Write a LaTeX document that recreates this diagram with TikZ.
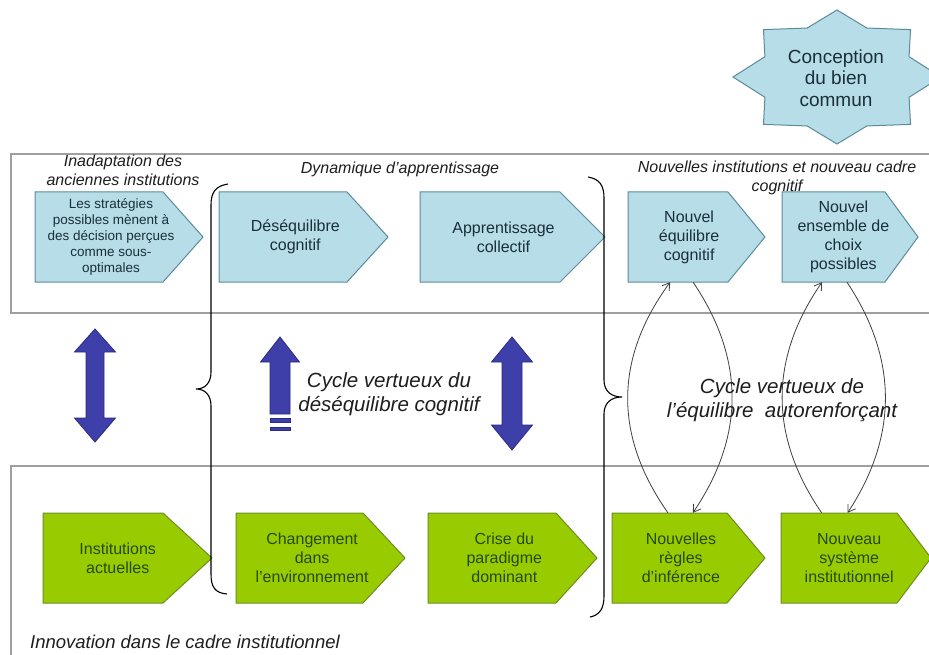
\documentclass[tikz,border=0pt]{standalone}
\usepackage{fontspec}
\setmainfont{Liberation Sans}
\usetikzlibrary{arrows.meta,calc}
\definecolor{boxblue}{HTML}{B7DDE8}
\definecolor{blueedge}{HTML}{5A8C99}
\definecolor{bluetext}{HTML}{1A2F3A}
\definecolor{boxgreen}{HTML}{99CC00}
\definecolor{greenedge}{HTML}{6B8E23}
\definecolor{greentext}{HTML}{244A0E}
\definecolor{arrowfill}{HTML}{3F3FAA}
\definecolor{arrowedge}{HTML}{2B2B80}
\definecolor{labeltext}{HTML}{1E1E1E}
\newcommand\pent[8]{%
  \draw[#2] (#4,#7) -- (#5,#7) -- (#6,#7+45) -- (#5,#7+90) -- (#4,#7+90) -- cycle;
  \node[#3] (#1) at ({(#4+#5)/2+0.3*(#6-#5)},#7+45) {#8};}
\tikzset{
  band/.style={draw=gray!75, line width=1.3pt},
  topbox/.style={fill=boxblue, draw=blueedge, line width=1pt},
  botbox/.style={fill=boxgreen, draw=greenedge, line width=1pt},
  bluetxt/.style={font=\fontsize{16}{19}\selectfont, text=bluetext, align=center, inner sep=0pt, minimum height=90pt},
  smalltxt/.style={font=\fontsize{13.5}{16}\selectfont, text=bluetext, align=center, inner sep=0pt, minimum height=90pt},
  greentxt/.style={font=\fontsize{16}{19}\selectfont, text=greentext, align=center, inner sep=0pt, minimum height=90pt},
  lbl/.style={font=\fontsize{16}{19}\selectfont\itshape, text=labeltext, align=center, inner sep=0pt},
  cyc/.style={font=\fontsize{20.5}{24}\selectfont\itshape, text=labeltext, align=center, inner sep=0pt},
  bigarrow/.style={fill=arrowfill, draw=arrowedge, line width=0.8pt, line join=miter},
  bracepath/.style={draw=black, line width=1.1pt},
  loop/.style={draw=black!75, line width=0.8pt, -{Straight Barb[length=7pt,width=9pt]}},
  starshape/.style={fill=boxblue, draw=blueedge, line width=1pt},
}
\begin{document}
\begin{tikzpicture}[x=1pt,y=-1pt]
\useasboundingbox (0,0) rectangle (929,655);
\clip (0,0) rectangle (929,655);
\fill[white] (0,0) rectangle (929,655);

% bands
\draw[band] (11,154) rectangle (945,313);
\draw[band] (11,466) rectangle (945,675);

% star
\begin{scope}[shift={(837,77)}]
\path[starshape] (90:104 and 67)
  -- (112.5:78 and 53) -- (135:104 and 67) -- (157.5:78 and 53)
  -- (180:104 and 67) -- (202.5:78 and 53) -- (225:104 and 67)
  -- (247.5:78 and 53) -- (270:104 and 67) -- (292.5:78 and 53)
  -- (315:104 and 67) -- (337.5:78 and 53) -- (0:104 and 67)
  -- (22.5:78 and 53) -- (45:104 and 67) -- (67.5:78 and 53) -- cycle;
\end{scope}
\node[font=\fontsize{19}{21.5}\selectfont, text=bluetext, align=center] (star) at (836,78) {Conception\\du bien\\commun};

% top boxes
\pent{t1}{topbox}{smalltxt}{35}{163}{203}{192}{Les stratégies\\possibles mènent à\\des décision perçues\\comme sous-\\optimales}
\pent{t2}{topbox}{bluetxt}{219}{347}{388}{192}{Déséquilibre\\cognitif}
\pent{t3}{topbox}{bluetxt}{420}{560}{605}{192}{Apprentissage\\collectif}
\pent{t4}{topbox}{bluetxt}{628}{728}{765}{192}{Nouvel\\équilibre\\cognitif}
\pent{t5}{topbox}{bluetxt}{782}{885}{918}{192}{Nouvel\\ensemble de\\choix\\possibles}

% bottom boxes
\pent{b1}{botbox}{greentxt}{43}{163}{212}{513}{Institutions\\actuelles}
\pent{b2}{botbox}{greentxt}{236}{363}{405}{513}{Changement\\dans\\l’environnement}
\pent{b3}{botbox}{greentxt}{428}{556}{597}{513}{Crise du\\paradigme\\dominant}
\pent{b4}{botbox}{greentxt}{612}{727}{765}{513}{Nouvelles\\règles\\d’inférence}
\pent{b5}{botbox}{greentxt}{781}{897}{931}{513}{Nouveau\\système\\institutionnel}

% braces
\draw[bracepath] (228,184) .. controls (215,186) and (211,193) .. (211,205)
  -- (211,372) .. controls (211,383) and (205,389) .. (196,389)
  .. controls (205,389) and (211,395) .. (211,406)
  -- (211,574) .. controls (211,587) and (215,593) .. (227,594);
\draw[bracepath] (588,177) .. controls (600,179) and (604,186) .. (604,198)
  -- (604,380) .. controls (604,391) and (611,397) .. (622,397)
  .. controls (611,397) and (604,403) .. (604,414)
  -- (604,596) .. controls (604,608) and (600,615) .. (590,617);

% big arrows
\path[bigarrow] (95,329) -- (115.5,352) -- (104,352) -- (104,418) -- (115.5,418)
  -- (95,442) -- (74.5,418) -- (86,418) -- (86,352) -- (74.5,352) -- cycle;
\path[bigarrow] (512,337) -- (532.5,362) -- (522,362) -- (522,425) -- (532.5,425)
  -- (512,450) -- (491.5,425) -- (502,425) -- (502,362) -- (491.5,362) -- cycle;
\path[bigarrow] (280,337) -- (299.5,362) -- (290,362) -- (290,414) -- (270,414)
  -- (270,362) -- (260.5,362) -- cycle;
\path[bigarrow] (270,418) rectangle (290,422);
\path[bigarrow] (270,427) rectangle (290,430);

% loops
\draw[loop] ([xshift=-13pt]b4.north) .. controls (614,436) and (614,359) .. ([xshift=-19pt]t4.south);
\draw[loop] ([xshift=4pt]t4.south) .. controls (745,359) and (745,436) .. ([xshift=12pt]b4.north);
\draw[loop] ([xshift=-27.6pt]b5.north) .. controls (769,436) and (769,359) .. ([xshift=-21.4pt]t5.south);
\draw[loop] ([xshift=3.6pt]t5.south) .. controls (898,359) and (898,436) .. ([xshift=-1.6pt]b5.north);

% labels
\node[lbl] (l1) at (123,170) {Inadaptation des\\anciennes institutions};
\node[lbl] (l2) at (400,169) {Dynamique d’apprentissage};
\node[lbl] (l3) at (777,178) {Nouvelles institutions et nouveau cadre\\cognitif};
\node[lbl, anchor=west, font=\fontsize{18.5}{21}\selectfont\itshape] (l4) at (30,642) {Innovation dans le cadre institutionnel};
\node[cyc] (c1) at (389,394) {Cycle vertueux du\\déséquilibre cognitif};
\node[cyc] (c2) at (782,400) {Cycle vertueux de\\l’équilibre\ \ autorenforçant};
\end{tikzpicture}
\end{document}
